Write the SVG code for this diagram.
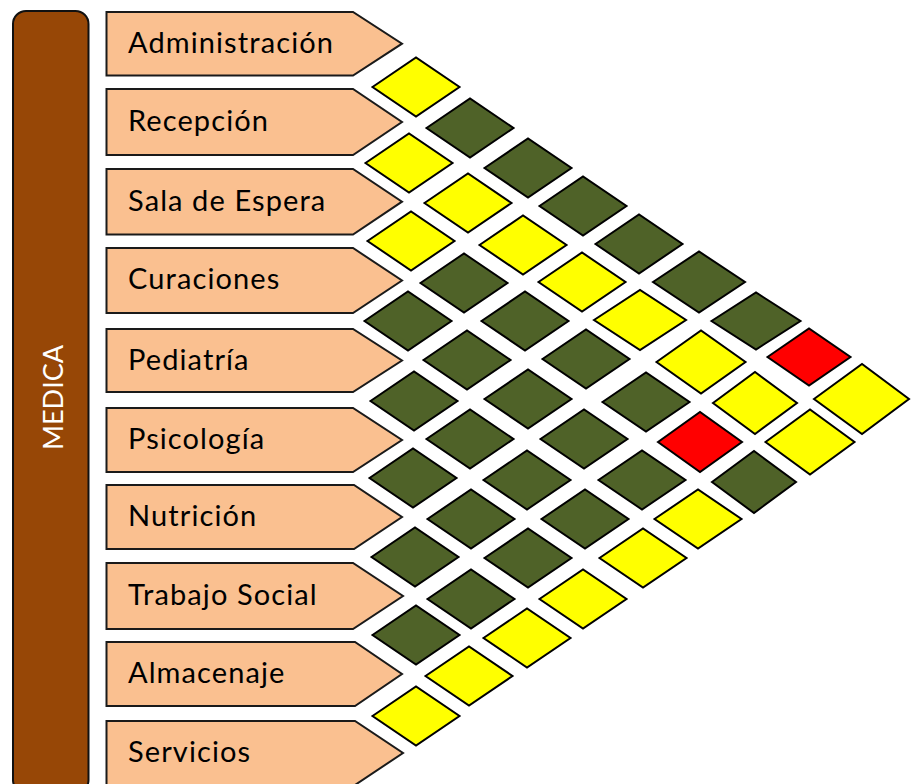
<svg xmlns="http://www.w3.org/2000/svg" width="911" height="784" viewBox="0 0 911 784">
<style>
.lbl{fill:#FAC090;stroke:#1a1a1a;stroke-width:2}
.lt{font-family:Lato,"Open Sans",sans-serif;font-size:29px;letter-spacing:1.1px;fill:#000}
.d{stroke:#000;stroke-width:2;stroke-linejoin:miter}
.g{fill:#4F6228}
.y{fill:#FFFF00}
.r{fill:#FF0000}
</style>
<rect width="911" height="784" fill="#fff"/>
<g id="medica">
<rect x="13" y="11" width="75.5" height="782" rx="13" ry="13" fill="#974706" stroke="#111" stroke-width="2"/>
<text x="63" y="397.5" transform="rotate(-90 63 397.5)" text-anchor="middle" font-family="Lato,'Open Sans',sans-serif" font-size="27" fill="#fff">MEDICA</text>
</g>
<g id="administracion"><polygon class="lbl" points="106.5,12 353,12 402,43.7 353,75.5 106.5,75.5"/><text class="lt" x="128" y="53">Administración</text></g>
<g id="recepcion"><polygon class="lbl" points="106.5,89 353,89 402,122 353,155 106.5,155"/><text class="lt" x="128" y="130.5">Recepción</text></g>
<g id="sala-de-espera"><polygon class="lbl" points="106.5,169 353,169 402,201.7 353,234.5 106.5,234.5"/><text class="lt" x="128" y="210.5">Sala de Espera</text></g>
<g id="curaciones"><polygon class="lbl" points="106.5,248 353,248 402,280.5 353,313 106.5,313"/><text class="lt" x="128" y="289">Curaciones</text></g>
<g id="pediatria"><polygon class="lbl" points="106.5,329 353,329 402,360.5 353,392 106.5,392"/><text class="lt" x="128" y="369.5">Pediatría</text></g>
<g id="psicologia"><polygon class="lbl" points="106.5,408 353,408 402,440 353,472 106.5,472"/><text class="lt" x="128" y="448.5">Psicología</text></g>
<g id="nutricion"><polygon class="lbl" points="106.5,485 354,485 402,517 354,549 106.5,549"/><text class="lt" x="128" y="525.5">Nutrición</text></g>
<g id="trabajo-social"><polygon class="lbl" points="106.5,563 353,563 403,596 353,629 106.5,629"/><text class="lt" x="128" y="604.5">Trabajo Social</text></g>
<g id="almacenaje"><polygon class="lbl" points="106.5,642 355,642 402,674 355,706 106.5,706"/><text class="lt" x="128" y="682.5">Almacenaje</text></g>
<g id="servicios"><polygon class="lbl" points="106.5,721 355,721 403,753 355,785 106.5,785"/><text class="lt" x="128" y="761.5">Servicios</text></g>
<g id="matrix">
<polygon class="d y" points="372.5,87 416,57.5 459.5,87 416,116.5"/>
<polygon class="d y" points="365.5,163 409,133.5 452.5,163 409,192.5"/>
<polygon class="d y" points="367.5,241 411,211.5 454.5,241 411,270.5"/>
<polygon class="d g" points="364.5,321 408,291.5 451.5,321 408,350.5"/>
<polygon class="d g" points="370.5,401 414,371.5 457.5,401 414,430.5"/>
<polygon class="d g" points="369.5,478 413,448.5 456.5,478 413,507.5"/>
<polygon class="d g" points="371.5,557 415,527.5 458.5,557 415,586.5"/>
<polygon class="d g" points="372.5,635 416,605.5 459.5,635 416,664.5"/>
<polygon class="d y" points="372.5,716 416,686.5 459.5,716 416,745.5"/>
<polygon class="d g" points="426.5,128 470,98.5 513.5,128 470,157.5"/>
<polygon class="d y" points="424.5,203 468,173.5 511.5,203 468,232.5"/>
<polygon class="d g" points="420.5,283 464,253.5 507.5,283 464,312.5"/>
<polygon class="d g" points="423.5,360 467,330.5 510.5,360 467,389.5"/>
<polygon class="d g" points="426.5,439 470,409.5 513.5,439 470,468.5"/>
<polygon class="d g" points="427.5,519 471,489.5 514.5,519 471,548.5"/>
<polygon class="d g" points="427.5,599 471,569.5 514.5,599 471,628.5"/>
<polygon class="d y" points="425.5,676 469,646.5 512.5,676 469,705.5"/>
<polygon class="d g" points="484.5,168 528,138.5 571.5,168 528,197.5"/>
<polygon class="d y" points="479.5,245 523,215.5 566.5,245 523,274.5"/>
<polygon class="d g" points="481.5,321 525,291.5 568.5,321 525,350.5"/>
<polygon class="d g" points="484.5,399 528,369.5 571.5,399 528,428.5"/>
<polygon class="d g" points="483.5,480 527,450.5 570.5,480 527,509.5"/>
<polygon class="d g" points="484.5,558 528,528.5 571.5,558 528,587.5"/>
<polygon class="d y" points="483.5,638 527,608.5 570.5,638 527,667.5"/>
<polygon class="d g" points="539.5,206 583,176.5 626.5,206 583,235.5"/>
<polygon class="d y" points="538.5,282 582,252.5 625.5,282 582,311.5"/>
<polygon class="d g" points="542.5,359 586,329.5 629.5,359 586,388.5"/>
<polygon class="d g" points="540.5,439 584,409.5 627.5,439 584,468.5"/>
<polygon class="d g" points="541.5,519 585,489.5 628.5,519 585,548.5"/>
<polygon class="d y" points="539.5,599 583,569.5 626.5,599 583,628.5"/>
<polygon class="d g" points="595.5,244 639,214.5 682.5,244 639,273.5"/>
<polygon class="d y" points="594,320 640,290 686,320 640,350"/>
<polygon class="d g" points="602.5,402 646,372.5 689.5,402 646,431.5"/>
<polygon class="d g" points="598.5,480 642,450.5 685.5,480 642,509.5"/>
<polygon class="d y" points="599.5,558 643,528.5 686.5,558 643,587.5"/>
<polygon class="d g" points="653,282 699,251.5 745,282 699,312.5"/>
<polygon class="d y" points="656.5,362 701,330.5 745.5,362 701,393.5"/>
<polygon class="d r" points="658,442 700,412 742,442 700,472"/>
<polygon class="d y" points="654.5,519 698,489.5 741.5,519 698,548.5"/>
<polygon class="d g" points="711.5,321 756,292.5 800.5,321 756,349.5"/>
<polygon class="d y" points="713,403 755,372 797,403 755,434"/>
<polygon class="d g" points="712,482 754,451 796,482 754,513"/>
<polygon class="d r" points="767.5,357 809,328.5 850.5,357 809,385.5"/>
<polygon class="d y" points="765.5,442 810,409.5 854.5,442 810,474.5"/>
<polygon class="d y" points="814,399 862,364 909,399 862,434"/>
</g>
</svg>
